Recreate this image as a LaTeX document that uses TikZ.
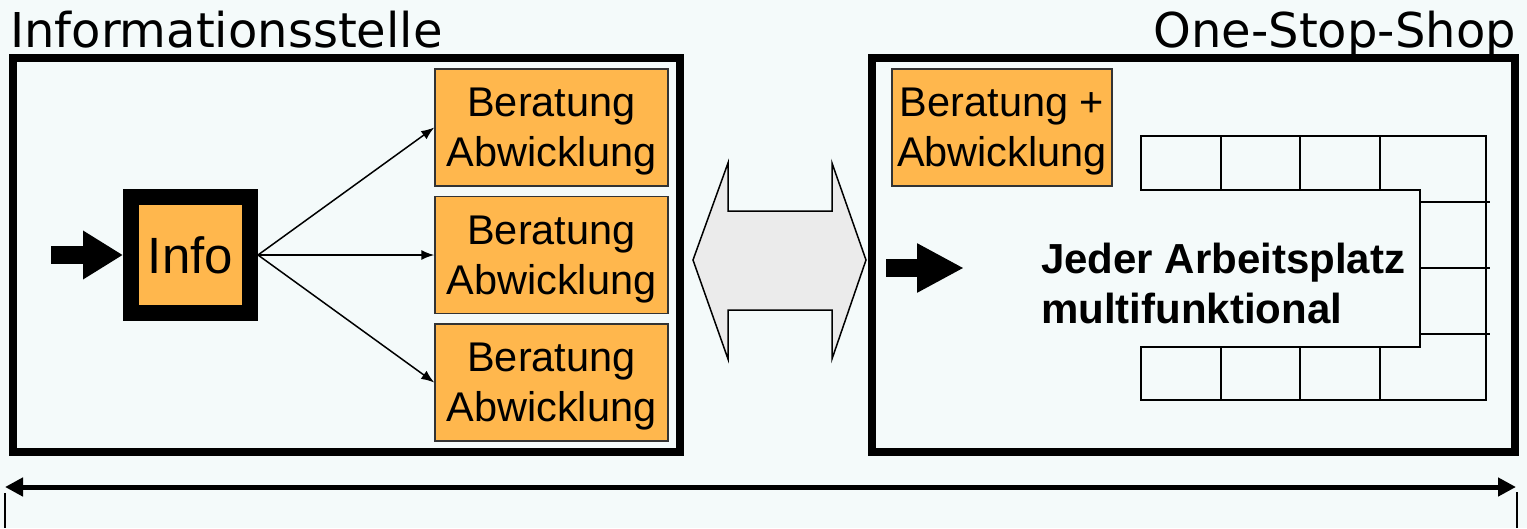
\documentclass[tikz,border=0pt]{standalone}
\usepackage{fontspec}
\setmainfont{Liberation Sans}
\newfontfamily\headfont{DejaVu Sans}
\usetikzlibrary{arrows.meta}
\definecolor{bgcolor}{RGB}{244,250,250}
\definecolor{orangebox}{RGB}{255,183,77}
\definecolor{arrowgray}{RGB}{235,235,235}

\begin{document}
\begin{tikzpicture}[x=1pt, y=-1pt,
        every node/.style = {inner sep=0pt, align=center},
        frame/.style = {shape=rectangle, draw, line width=8pt},
        task/.style = {shape=rectangle, draw=black!80, line width=1.5pt,
                       fill=orangebox, minimum height=117pt, text depth=0pt,
                       font=\fontsize{41.5}{50}\selectfont},
        flow/.style = {-{Latex[length=13pt,width=10pt]}, line width=1.5pt},
        heading/.style = {font=\headfont\fontsize{48}{56}\selectfont}]
    \fill[bgcolor] (0,0) rectangle (1527,528);
    \useasboundingbox (0,0) rectangle (1527,528);

    % titles and frames
    \node[heading, anchor=base west] (headL) at (10,47) {Informationsstelle};
    \node[heading, anchor=base east] (headR) at (1516,47) {One-Stop-Shop};
    \node[frame, minimum width=667pt, minimum height=394pt] (left) at (346.5,255) {};
    \node[frame, minimum width=643pt, minimum height=394pt] (right) at (1193.5,255) {};

    % Informationsstelle
    \node[draw, line width=16pt, fill=orangebox, minimum width=119pt,
          minimum height=116pt, font=\fontsize{51}{60}\selectfont] (info) at (190.5,255) {Info};
    \node[task, minimum width=233pt] (task1) at (551.5,127.5) {Beratung\\Abwicklung};
    \node[task, minimum width=233pt] (task2) at (551.5,255) {Beratung\\Abwicklung};
    \node[task, minimum width=233pt] (task3) at (551.5,382.5) {Beratung\\Abwicklung};
    \foreach \t in {task1,task2,task3}
        \draw[flow] (info.east) -- (\t.west);
    \coordinate (inL) at (51,255);
    \draw[line width=18pt, -{Triangle[length=40pt,width=46pt]}] (inL) -- (info.west);

    % double arrow in between
    \draw[line width=1.5pt, fill=arrowgray] (693,260) -- (728,163) -- (728,211)
        -- (832,211) -- (832,163) -- (866,260) -- (832,359) -- (832,310)
        -- (728,310) -- (728,359) -- cycle;

    % One-Stop-Shop
    \node[task, minimum width=220pt] (oss) at (1002,127.5) {Beratung +\\Abwicklung};
    \coordinate (inR) at (886,268);
    \coordinate (outR) at (964,268);
    \draw[line width=18pt, -{Triangle[length=47pt,width=46pt]}] (inR) -- (outR);
    \draw[line width=1.5pt] (1141,136) -- (1486,136) -- (1486,400) -- (1141,400)
        -- (1141,347) -- (1420,347) -- (1420,190) -- (1141,190) -- cycle;
    \foreach \x in {1221,1300,1380} {
        \draw[line width=1.5pt] (\x,136) -- (\x,190);
        \draw[line width=1.5pt] (\x,347) -- (\x,400);
    }
    \foreach \y in {202,268,334}
        \draw[line width=1.5pt] (1420,\y) -- (1490,\y);
    \node[anchor=west, align=left, font=\bfseries\fontsize{42}{50}\selectfont] (desk)
        at (1041,283) {Jeder Arbeitsplatz\\multifunktional};

    % range below
    \coordinate (bl) at (5,487);
    \coordinate (br) at (1516,487);
    \draw[line width=5pt, {Triangle[length=18pt,width=18pt]}-{Triangle[length=18pt,width=18pt]}] (bl) -- (br);
    \coordinate (tickL) at (5,493);
    \coordinate (tickR) at (1517,492);
    \draw[line width=1.5pt] (tickL) -- (5,528);
    \draw[line width=1.5pt] (tickR) -- (1517,528);
\end{tikzpicture}
\end{document}
